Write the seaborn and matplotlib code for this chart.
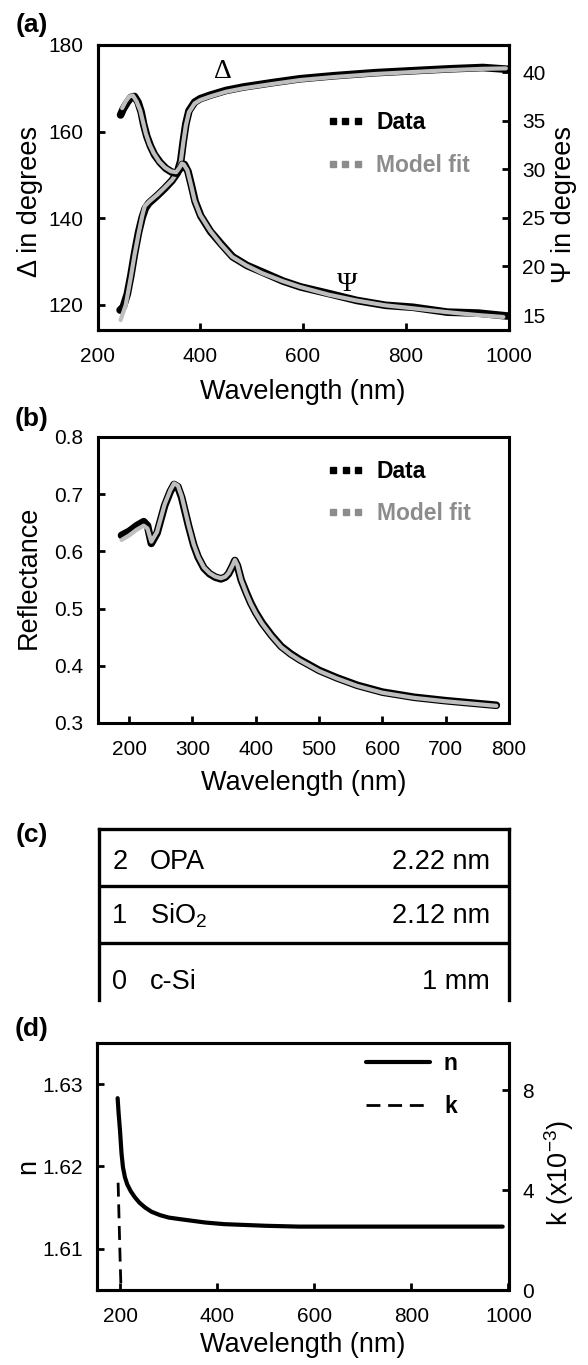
import matplotlib
matplotlib.use("Agg")
import matplotlib.pyplot as plt
from matplotlib.lines import Line2D
import seaborn as sns

# ---- (a) ellipsometric angles ----
wl_delta_fit = [245, 255, 265, 272, 280, 287, 292, 300, 316, 330, 345, 355, 362, 367, 372, 378,
                389, 400, 419, 450, 484, 540, 594, 660, 740, 820, 886, 950, 995]
delta_fit = [116.5, 120.0, 126.5, 131.5, 136.5, 140.5, 142.8, 143.8, 145.4, 147.0, 148.8, 150.5,
             153.0, 157.5, 161.5, 164.5, 166.5, 167.3, 168.1, 169.2, 170.0, 171.0, 171.9, 172.6,
             173.3, 173.8, 174.2, 174.5, 174.6]
wl_delta_data = [244, 250, 258, 265, 272, 280, 287, 293, 300, 316, 330, 345, 355, 362, 367, 372,
                 378, 389, 400, 419, 450, 484, 540, 594, 660, 740, 820, 886, 950, 998]
delta_data = [118.8, 119.5, 122.5, 126.8, 131.8, 136.8, 140.2, 142.3, 143.5, 145.2, 146.8, 148.7,
              150.4, 153.2, 157.8, 161.8, 164.8, 166.8, 167.6, 168.4, 169.5, 170.3, 171.3, 172.2,
              172.9, 173.6, 174.1, 174.5, 174.8, 174.4]

wl_psi_fit = [248, 255, 262, 269, 276, 283, 289, 294, 301, 309, 320, 331, 343, 353, 360, 364, 368,
              375, 382, 389, 400, 419, 440, 462, 490, 521, 560, 594, 650, 704, 760, 813, 880, 940, 990]
psi_fit = [36.3, 37.0, 37.5, 37.6, 37.0, 36.1, 34.8, 33.7, 32.6, 31.7, 30.8, 30.2, 29.8, 29.7,
           30.2, 30.6, 30.5, 29.9, 28.4, 26.8, 25.3, 23.7, 22.3, 21.0, 20.1, 19.3, 18.5, 17.9,
           17.1, 16.5, 16.0, 15.7, 15.3, 15.0, 14.8]
wl_psi_data = [245, 250, 258, 265, 272, 279, 285, 290, 296, 303, 311, 322, 333, 345, 354, 361, 365,
               369, 376, 383, 390, 401, 420, 441, 463, 491, 522, 561, 595, 651, 705, 761, 814, 881,
               941, 998]
psi_data = [35.6, 36.2, 36.9, 37.4, 37.5, 36.9, 35.9, 34.6, 33.4, 32.4, 31.5, 30.7, 30.1, 29.7,
            29.6, 30.1, 30.5, 30.5, 29.8, 28.3, 26.7, 25.2, 23.6, 22.3, 21.0, 20.1, 19.4, 18.5,
            17.9, 17.2, 16.5, 16.0, 15.8, 15.3, 15.2, 14.9]

# ---- (b) reflectance ----
wl_refl_fit = [188, 200, 212, 223, 229, 235, 244, 256, 265, 271, 277, 283, 294, 302, 309, 318, 327,
               336, 345, 352, 357, 363, 367, 371, 377, 385, 392, 400, 410, 425, 440, 455, 469, 500,
               528, 560, 600, 650, 700, 740, 780]
refl_fit = [0.620, 0.628, 0.638, 0.645, 0.640, 0.617, 0.634, 0.682, 0.707, 0.719, 0.715, 0.696,
            0.645, 0.612, 0.591, 0.572, 0.562, 0.556, 0.553, 0.556, 0.562, 0.575, 0.585, 0.576,
            0.550, 0.527, 0.509, 0.492, 0.474, 0.452, 0.433, 0.420, 0.410, 0.391, 0.378, 0.365,
            0.353, 0.344, 0.338, 0.334, 0.330]
wl_refl_data = [188, 200, 212, 223, 229, 235, 244, 256, 265, 271, 277, 283, 294, 302, 309, 318, 327,
                336, 345, 352, 357, 363, 367, 371, 377, 385, 392, 400, 410, 425, 440, 455, 469, 500,
                528, 560, 600, 650, 700, 740, 780]
refl_data = [0.628, 0.635, 0.645, 0.652, 0.645, 0.614, 0.632, 0.680, 0.705, 0.717, 0.713, 0.694,
             0.644, 0.611, 0.590, 0.571, 0.561, 0.555, 0.552, 0.555, 0.561, 0.574, 0.584, 0.575,
             0.550, 0.528, 0.510, 0.493, 0.475, 0.453, 0.434, 0.421, 0.411, 0.392, 0.379, 0.366,
             0.354, 0.345, 0.339, 0.335, 0.331]

# ---- (c) layer stack ----
layer_idx = ["2", "1", "0"]
layer_name = ["OPA", "SiO$_2$", "c-Si"]
layer_thick = ["2.22 nm", "2.12 nm", "1 mm"]

# ---- (d) optical constants ----
wl_n = [195, 197, 200, 203, 206, 210, 215, 222, 230, 240, 252, 265, 282, 300, 324, 375, 414, 500,
        568, 700, 800, 988]
n_vals = [1.6283, 1.6265, 1.6243, 1.6216, 1.6199, 1.6187, 1.6178, 1.6170, 1.6163, 1.6156, 1.6150,
          1.6145, 1.6141, 1.6138, 1.6136, 1.6132, 1.6130, 1.6128, 1.6127, 1.6127, 1.6127, 1.6127]
wl_k = [196, 198, 200, 202]
k_vals = [4.3, 2.8, 1.3, 0.0]

sns.set_theme(style="ticks")
plt.rcParams["font.family"] = ["Liberation Sans", "DejaVu Sans"]
plt.rcParams["mathtext.fontset"] = "custom"
plt.rcParams["mathtext.rm"] = "Liberation Sans"
plt.rcParams["mathtext.default"] = "regular"
plt.rcParams["text.color"] = "black"
plt.rcParams["axes.labelcolor"] = "black"

W, H = 588, 1365
fig = plt.figure(figsize=(W / 100, H / 100), dpi=100)


def box(l, t, r, b):
    return [l / W, 1 - b / H, (r - l) / W, (b - t) / H]


def style(ax):
    for s in ax.spines.values():
        s.set_linewidth(2.2)
        s.set_color("black")
    ax.tick_params(direction="in", length=5, width=2, labelsize=15,
                   colors="black", right=False, top=False)
    ax.tick_params(axis="x", pad=12)
    ax.tick_params(axis="y", pad=10)


DATA_C, FIT_C, FIT_TXT = "black", "#bebebe", "#8c8c8c"
LAB = 19.5
K_DASH = [5, 2.8]

# ---------- (a) ----------
ax_a = fig.add_axes(box(97.5, 45, 508.5, 330))
sns.lineplot(x=wl_delta_data, y=delta_data, ax=ax_a, color=DATA_C, lw=5.5, legend=False)
sns.lineplot(x=wl_delta_fit, y=delta_fit, ax=ax_a, color=FIT_C, lw=3, legend=False)
ax_a.set_xlim(200, 1000)
ax_a.set_ylim(114.2, 180)
ax_a.set_xticks([200, 400, 600, 800, 1000])
ax_a.set_yticks([120, 140, 160, 180])
style(ax_a)
ax_a2 = ax_a.twinx()
sns.lineplot(x=wl_psi_data, y=psi_data, ax=ax_a2, color=DATA_C, lw=5.5, legend=False)
sns.lineplot(x=wl_psi_fit, y=psi_fit, ax=ax_a2, color=FIT_C, lw=3, legend=False)
ax_a2.set_ylim(13.46, 42.8)
ax_a2.set_yticks([15, 20, 25, 30, 35, 40])
style(ax_a2)
ax_a2.tick_params(axis="y", right=True, left=False, labelright=True, labelleft=False)
ax_a.set_xlabel("Wavelength (nm)", fontsize=LAB, va="center")
ax_a.xaxis.set_label_coords(0.5, -62 / 285)
ax_a.set_ylabel("Δ in degrees", fontsize=LAB, va="center")
ax_a.yaxis.set_label_coords(-0.164, 0.45)
ax_a2.set_ylabel("Ψ in degrees", fontsize=LAB, va="center", rotation=90)
ax_a2.yaxis.set_label_coords(1.135, 0.44)
ax_a.text(445, 173.8, "Δ", fontsize=20, family=["Liberation Serif", "DejaVu Serif"],
          ha="center", va="center")
ax_a.text(685, 124.6, "Ψ", fontsize=20, family=["Liberation Serif", "DejaVu Serif"],
          ha="center", va="center")


def fit_legend(ax, y):
    h = [Line2D([], [], color=DATA_C, marker="s", ls="none", ms=5),
         Line2D([], [], color=FIT_TXT, marker="s", ls="none", ms=5)]
    leg = ax.legend(h, ["Data", "Model fit"], loc="center left", bbox_to_anchor=(0.556, y),
                    numpoints=3, frameon=False, borderpad=0, borderaxespad=0,
                    handlelength=1.7, handletextpad=0.5, labelspacing=0.85,
                    prop={"weight": "bold", "size": 16.5})
    leg.get_texts()[1].set_color(FIT_TXT)
    return leg


fit_legend(ax_a2, (0.726 + 0.579) / 2)

# ---------- (b) ----------
ax_b = fig.add_axes(box(97.5, 437, 509, 723))
sns.lineplot(x=wl_refl_data, y=refl_data, ax=ax_b, color=DATA_C, lw=5.5, legend=False)
sns.lineplot(x=wl_refl_fit, y=refl_fit, ax=ax_b, color=FIT_C, lw=3, legend=False)
ax_b.set_xlim(150, 800)
ax_b.set_ylim(0.3, 0.8)
ax_b.set_xticks([200, 300, 400, 500, 600, 700, 800])
ax_b.set_yticks([0.3, 0.4, 0.5, 0.6, 0.7, 0.8])
style(ax_b)
ax_b.set_xlabel("Wavelength (nm)", fontsize=LAB, va="center")
ax_b.xaxis.set_label_coords(0.5, -59.5 / 286)
ax_b.set_ylabel("Reflectance", fontsize=LAB, va="center")
ax_b.yaxis.set_label_coords(-0.168, 0.51)
fit_legend(ax_b, (0.878 + 0.734) / 2)

# ---------- (c) ----------
ax_c = fig.add_axes(box(98.6, 829, 508.5, 1000))
ax_c.set_xlim(0, 1)
ax_c.set_ylim(0, 3)
for s in ax_c.spines.values():
    s.set_linewidth(2.4)
    s.set_color("black")
ax_c.spines["bottom"].set_visible(False)
ax_c.set_xticks([])
ax_c.set_yticks([])
for yb in [1, 2]:
    ax_c.axhline(yb, color="black", lw=2.4)
row_y = [2.42, 1.47, 0.31]
for yy, i, nm, th in zip(row_y, layer_idx, layer_name, layer_thick):
    ax_c.text(0.033, yy, i, fontsize=19.5, ha="left", va="center")
    ax_c.text(0.125, yy, nm, fontsize=19.5, ha="left", va="center")
    ax_c.text(0.955, yy, th, fontsize=19.5, ha="right", va="center")

# ---------- (d) ----------
ax_d = fig.add_axes(box(96.75, 1043, 508.5, 1290))
sns.lineplot(x=wl_n, y=n_vals, ax=ax_d, color="black", lw=3, legend=False)
ax_d.set_xlim(152, 1000)
ax_d.set_ylim(1.605, 1.635)
ax_d.set_xticks([200, 400, 600, 800, 1000])
ax_d.set_yticks([1.61, 1.62, 1.63])
style(ax_d)
ax_d2 = ax_d.twinx()
sns.lineplot(x=wl_k, y=k_vals, ax=ax_d2, color="black", lw=2, legend=False)
ax_d2.lines[-1].set_dashes(K_DASH)
ax_d2.set_ylim(0, 9.9)
ax_d2.set_yticks([0, 4, 8])
style(ax_d2)
ax_d2.tick_params(axis="y", right=True, left=False, labelright=True, labelleft=False)
ax_d.set_xlabel("Wavelength (nm)", fontsize=LAB, va="center")
ax_d.xaxis.set_label_coords(0.5, -55 / 247)
ax_d.set_ylabel("n", fontsize=LAB, va="center")
ax_d.yaxis.set_label_coords(-0.167, 0.498)
ax_d2.set_ylabel("k (x10$^{-3}$)", fontsize=LAB, va="center", rotation=90)
ax_d2.yaxis.set_label_coords(1.123, 0.474)
hd = [Line2D([], [], color="black", lw=3),
      Line2D([], [], color="black", lw=2, dashes=K_DASH)]
ax_d2.legend(hd, ["n", "k"], loc="center left", bbox_to_anchor=(0.654, (0.911 + 0.749) / 2),
             frameon=False, borderpad=0, borderaxespad=0, handlelength=2.8,
             handletextpad=0.6, labelspacing=0.9, prop={"weight": "bold", "size": 16.5})

# panel letters
for lbl, (x, y) in zip(["(a)", "(b)", "(c)", "(d)"], [(32, 25), (32, 419), (32, 835), (32, 1029)]):
    fig.text(x / W, 1 - y / H, lbl, fontsize=19, weight="bold", ha="center", va="center")

fig.savefig("out.png", dpi=100, facecolor="white")
